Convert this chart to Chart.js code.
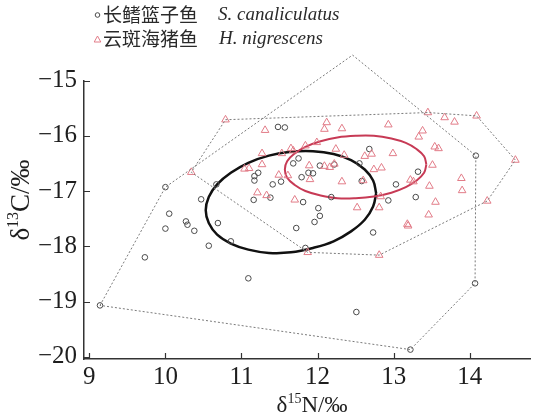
<!DOCTYPE html>
<html>
<head>
<meta charset="utf-8">
<script src="https://cdn.jsdelivr.net/npm/chart.js@4/dist/chart.umd.min.js"></script>
<style>
  html, body { margin: 0; padding: 0; background: #fff; }
  canvas { display: block; }
</style>
</head>
<body>
<canvas id="isoChart" width="536" height="417"></canvas>
<script>
// δ15N / δ13C 散点 + 凸包 + 标准椭圆

const xTicks = [9, 10, 11, 12, 13, 14];
const yTicks = [-15, -16, -17, -18, -19, -20];

// 长鳍篮子鱼 S. canaliculatus (δ15N, δ13C)
const scPoints = [
    [9.14, -19.07], [10.00, -16.93], [12.46, -14.54], [14.08, -16.36], [14.07, -18.67],
    [13.22, -19.87], [11.48, -15.84], [11.57, -15.85], [10.67, -16.88], [10.47, -17.15],
    [10.05, -17.41], [10.00, -17.68], [10.27, -17.55], [10.29, -17.61], [10.38, -17.72],
    [10.69, -17.58], [10.57, -17.99], [10.86, -17.91], [9.73, -18.20], [11.22, -16.67],
    [11.17, -16.73], [11.17, -16.81], [11.16, -17.16], [11.38, -17.12], [11.41, -16.88],
    [11.52, -16.83], [11.68, -16.50], [11.75, -16.41], [11.79, -16.75], [11.88, -16.67],
    [11.94, -16.68], [12.03, -16.54], [12.22, -16.52], [12.55, -16.50], [12.68, -16.24],
    [12.58, -16.82], [13.32, -16.65], [13.03, -16.88], [12.93, -17.17], [13.29, -17.11],
    [12.18, -17.11], [11.81, -17.20], [12.01, -17.31], [12.03, -17.45], [11.96, -17.56],
    [11.72, -17.67], [12.73, -17.75], [11.84, -18.03], [11.09, -18.58], [12.51, -19.19]
];

// 云斑海猪鱼 H. nigrescens
const hnPoints = [
    [10.79, -15.71], [10.34, -16.66], [11.87, -18.11], [12.81, -18.16], [14.23, -17.18],
    [14.60, -16.44], [14.09, -15.64], [13.45, -15.58], [11.31, -15.90], [11.27, -16.32],
    [11.27, -16.52], [11.04, -16.60], [11.10, -16.59], [11.49, -16.71], [11.61, -16.72],
    [11.21, -17.03], [11.33, -17.08], [11.53, -16.32], [11.65, -16.23], [11.68, -16.27],
    [11.70, -17.16], [11.84, -16.18], [11.99, -16.12], [12.12, -15.76], [12.09, -15.88],
    [12.32, -15.87], [12.93, -15.80], [13.38, -15.91], [13.33, -16.02], [13.67, -15.67],
    [13.80, -15.75], [13.54, -16.20], [13.59, -16.23], [12.24, -16.24], [12.35, -16.35],
    [12.62, -16.37], [12.71, -16.33], [12.99, -16.32], [13.51, -16.53], [11.89, -16.54],
    [12.09, -16.55], [12.16, -16.57], [12.22, -16.51], [12.84, -16.58], [12.74, -16.61],
    [11.90, -16.79], [12.32, -16.83], [12.60, -16.81], [13.22, -16.80], [13.26, -16.83],
    [13.47, -16.91], [13.89, -16.77], [13.90, -16.99], [12.83, -17.10], [12.81, -17.30],
    [12.52, -17.30], [13.55, -17.20], [13.46, -17.43], [13.18, -17.60], [13.19, -17.63]
];

// 凸包顶点（闭合）
const scHull = [
    [9.14, -19.07], [10.00, -16.93], [12.46, -14.54], [14.08, -16.36],
    [14.07, -18.67], [13.22, -19.87], [9.14, -19.07]
];
const hnHull = [
    [10.79, -15.71], [13.45, -15.58], [14.09, -15.64], [14.60, -16.44], [14.23, -17.18],
    [12.81, -18.16], [11.87, -18.11], [10.34, -16.66], [10.79, -15.71]
];

// 标准椭圆轮廓
const scEllipse = [
    [12.77, -17.04], [12.73, -16.81], [12.62, -16.61], [12.44, -16.44], [12.21, -16.33],
    [11.94, -16.28], [11.65, -16.29], [11.36, -16.36], [11.09, -16.49], [10.86, -16.67],
    [10.68, -16.88], [10.57, -17.11], [10.53, -17.35], [10.57, -17.58], [10.68, -17.79],
    [10.86, -17.95], [11.09, -18.06], [11.36, -18.12], [11.65, -18.11], [11.94, -18.03],
    [12.21, -17.91], [12.44, -17.73], [12.62, -17.52], [12.73, -17.28], [12.77, -17.04]
];
const hnEllipse = [
    [13.43, -16.52], [13.40, -16.37], [13.30, -16.24], [13.16, -16.13], [12.97, -16.05],
    [12.74, -16.00], [12.50, -16.00], [12.26, -16.03], [12.04, -16.10], [11.84, -16.20],
    [11.70, -16.32], [11.60, -16.46], [11.57, -16.61], [11.60, -16.76], [11.70, -16.89],
    [11.84, -17.00], [12.04, -17.08], [12.26, -17.13], [12.50, -17.13], [12.74, -17.10],
    [12.97, -17.03], [13.16, -16.93], [13.30, -16.81], [13.40, -16.67], [13.43, -16.52]
];

const SERIF = '"Liberation Serif", "Times New Roman", serif';
const CJK = '"Noto Sans CJK SC", sans-serif';
const INK = '#1e1e1e';
const CIRCLE_COLOR = '#4a4a4a';
const TRI_COLOR = '#e27c88';
const RED = '#c73a55';

const toXY = arr => arr.map(([x, y]) => ({ x, y }));

function drawSup(ctx, parts, x, y, size) {
    // parts: [text, isSuper]，居中绘制
    const supSize = Math.round(size * 0.6);
    const fontOf = sup => (sup ? supSize : size) + 'px ' + SERIF;
    let w = 0;
    parts.forEach(([t, sup]) => {
        ctx.font = fontOf(sup);
        w += ctx.measureText(t).width;
    });
    let cx = x - w / 2;
    parts.forEach(([t, sup]) => {
        ctx.font = fontOf(sup);
        ctx.fillText(t, cx, sup ? y - size * 0.4 : y);
        cx += ctx.measureText(t).width;
    });
}

const overlay = {
    id: 'overlay',
    afterDraw(chart) {
        const { ctx, chartArea: a, scales: { x, y } } = chart;
        ctx.save();

        // 内向刻度
        ctx.strokeStyle = '#333';
        ctx.lineWidth = 1.2;
        ctx.beginPath();
        xTicks.forEach(v => {
            const px = Math.round(x.getPixelForValue(v)) + 0.5;
            ctx.moveTo(px, a.bottom);
            ctx.lineTo(px, a.bottom - 6);
        });
        yTicks.forEach(v => {
            const py = Math.round(y.getPixelForValue(v)) + 0.5;
            ctx.moveTo(a.left, py);
            ctx.lineTo(a.left + 6, py);
        });
        ctx.stroke();

        // 轴标题
        ctx.fillStyle = INK;
        ctx.textBaseline = 'alphabetic';
        drawSup(ctx, [['δ', false], ['15', true], ['N/‰', false]], 312, 412, 23);
        ctx.save();
        ctx.translate(29, 200);
        ctx.rotate(-Math.PI / 2);
        drawSup(ctx, [['δ', false], ['13', true], ['C/‰', false]], 0, 0, 27);
        ctx.restore();

        // 图例
        ctx.lineWidth = 1;
        ctx.strokeStyle = CIRCLE_COLOR;
        ctx.beginPath();
        ctx.arc(97.5, 15, 2.3, 0, Math.PI * 2);
        ctx.stroke();
        ctx.strokeStyle = TRI_COLOR;
        ctx.beginPath();
        ctx.moveTo(97.5, 36);
        ctx.lineTo(100.8, 42);
        ctx.lineTo(94.2, 42);
        ctx.closePath();
        ctx.stroke();

        ctx.fillStyle = '#2a2a2a';
        ctx.textBaseline = 'middle';
        ctx.font = '19px ' + CJK;
        ctx.fillText('长鳍篮子鱼', 103, 15);
        ctx.fillText('云斑海猪鱼', 103, 39);
        ctx.font = 'italic 19px ' + SERIF;
        ctx.fillText('S. canaliculatus', 218, 15);
        ctx.fillText('H. nigrescens', 219, 39);

        ctx.restore();
    }
};

const tickFont = { family: SERIF, size: 25 };

new Chart(document.getElementById('isoChart').getContext('2d'), {
    type: 'scatter',
    data: {
        datasets: [
            { data: toXY(scHull), showLine: true, pointRadius: 0, borderColor: '#7a7a7a',
              borderWidth: 1, borderDash: [2, 2], clip: false },
            { data: toXY(hnHull), showLine: true, pointRadius: 0, borderColor: '#7a7a7a',
              borderWidth: 1, borderDash: [2, 2], clip: false },
            { data: toXY(hnPoints), pointStyle: 'triangle', pointRadius: 4.4,
              borderColor: TRI_COLOR, backgroundColor: 'rgba(0,0,0,0)', borderWidth: 1, clip: false },
            { data: toXY(scPoints), pointStyle: 'circle', pointRadius: 2.8,
              borderColor: CIRCLE_COLOR, backgroundColor: 'rgba(0,0,0,0)', borderWidth: 1, clip: false },
            { data: toXY(hnEllipse), showLine: true, pointRadius: 0, borderColor: RED,
              borderWidth: 2, tension: 0.4, clip: false },
            { data: toXY(scEllipse), showLine: true, pointRadius: 0, borderColor: '#111',
              borderWidth: 2.5, tension: 0.4, clip: false }
        ]
    },
    options: {
        responsive: false, animation: false, devicePixelRatio: 1,
        layout: { padding: { top: 80.5, right: 0, bottom: 0, left: 0 } },
        plugins: { legend: { display: false }, tooltip: { enabled: false } },
        scales: {
            x: {
                type: 'linear', min: 8.93, max: 14.8,
                grid: { display: false, drawTicks: false },
                border: { color: '#333', width: 1.5 },
                ticks: { font: tickFont, color: INK, padding: 3, maxRotation: 0 },
                afterBuildTicks: s => { s.ticks = xTicks.map(v => ({ value: v })); },
                afterFit: s => { s.height = 58; }
            },
            y: {
                type: 'linear', min: -20.04, max: -15,
                grid: { display: false, drawTicks: false },
                border: { color: '#333', width: 1.5 },
                ticks: { font: tickFont, color: INK, padding: 7,
                         callback: v => '\u2212' + Math.abs(v) },
                afterBuildTicks: s => { s.ticks = yTicks.map(v => ({ value: v })); },
                afterFit: s => { s.width = 84; }
            }
        }
    },
    plugins: [overlay]
});
</script>
</body>
</html>
